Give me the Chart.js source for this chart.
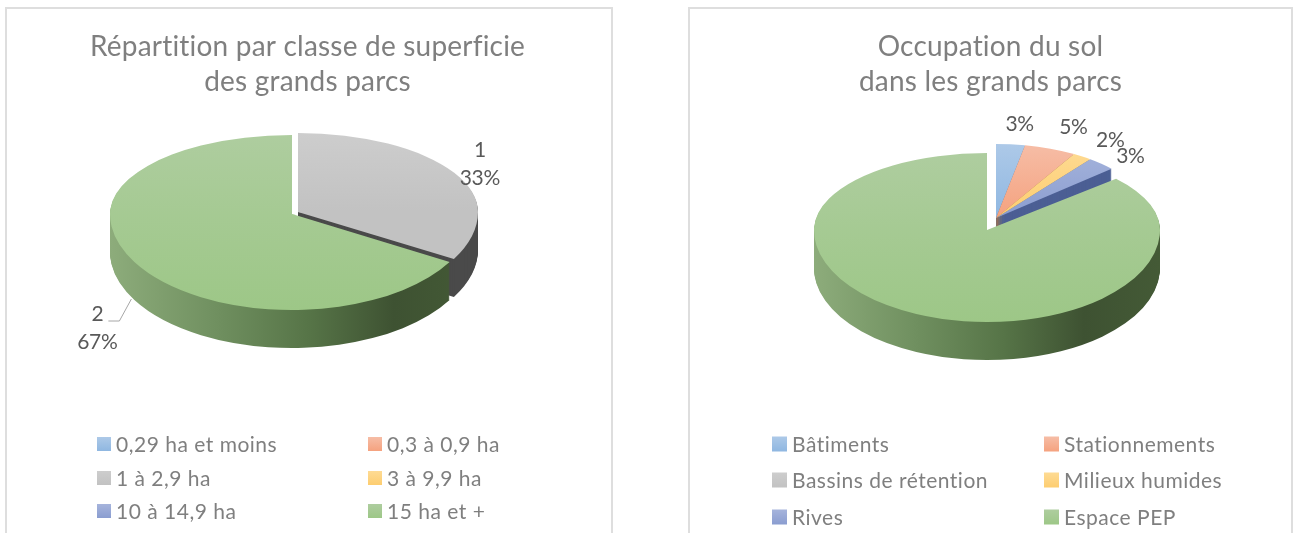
<!DOCTYPE html>
<html lang="fr"><head><meta charset="utf-8">
<style>
html,body{margin:0;padding:0;background:#fff;width:1293px;height:533px;overflow:hidden}
.panel{position:absolute;top:7px;height:560px;box-sizing:border-box;border:2px solid #dedede;background:#fff;overflow:hidden}
canvas{display:block;filter:blur(0.4px)}
</style>
<script src="https://cdn.jsdelivr.net/npm/chart.js@4/dist/chart.umd.min.js"></script>
</head><body>
<div class="panel" style="left:5px;width:608px"><canvas id="c1" width="601" height="556"></canvas></div>
<div class="panel" style="left:688px;width:605px"><canvas id="c2" width="601" height="556"></canvas></div>
<script>
// ---- data ----
const sizeCategories = ['0,29 ha et moins','0,3 à 0,9 ha','1 à 2,9 ha','3 à 9,9 ha','10 à 14,9 ha','15 ha et +'];
const sizeValues = [0,0,1,0,0,2];
const sizeLabels = [null,null,['1','33%'],null,null,['2','67%']];
const sizeTitle = ['Répartition par classe de superficie','des grands parcs'];

const landCategories = ['Bâtiments','Stationnements','Bassins de rétention','Milieux humides','Rives','Espace PEP'];
const landValues = [3,5.4,0,2,3,86.6];
const landLabels = [['3%'],['5%'],null,['2%'],['3%'],null];
const landTitle = ['Occupation du sol','dans les grands parcs'];

// ---- styles ----
const faceTop = ['#adc9e8','#f6bda6','#cdcdcd','#fedb94','#a6b4dc','#aecd9f'];
const faceBottom = ['#8fb7e1','#f5a27f','#c2c2c2','#fdcd70','#8a9dd0','#9dc787'];
const sideSolid = ['#5c7ba0','#a8694a','#4a4a4a','#b08f40','#4c5f94',null];
const sideStops = [[0,'#8dac7b'],[0.3,'#6f8f5f'],[0.55,'#567447'],[0.78,'#3e5232'],[1,'#445a36']];
const GREY = '#7f7f7f', LABEL = '#595959', FONT = 'Lato';

function panelPlugin(cfg){
  return {
    id:'pie3d',
    beforeDraw(chart){ chart.ctx.letterSpacing = cfg.titleSpacing; },
    beforeDatasetsDraw(chart){
      const ctx = chart.ctx;
      ctx.letterSpacing = '0px';
      const arcs = chart.getDatasetMeta(0).data;
      const paint = (arc,g,d,fill)=>{
        const R = arc.outerRadius;
        [[g.ryb,-1e4,g.y+d+0.5],[g.ryf,g.y+d,1e4]].forEach(([ry,y0,y1])=>{
          ctx.save();
          ctx.beginPath(); ctx.rect(-1e4,y0,2e4,y1-y0); ctx.clip();
          ctx.translate(g.x,g.y+d); ctx.scale(g.rx/R,ry/R); ctx.translate(-arc.x,-arc.y);
          const o = arc.options;
          arc.options = Object.assign({},o,{backgroundColor:fill,borderWidth:0});
          arc.draw(ctx);
          arc.options = o;
          ctx.restore();
        });
      };
      const sideFill = (arc,i)=>{
        if(sideSolid[i]) return sideSolid[i];
        const R = arc.outerRadius;
        const gr = ctx.createLinearGradient(arc.x-R,0,arc.x+R,0);
        sideStops.forEach(s=>gr.addColorStop(s[0],s[1]));
        return gr;
      };
      const faceFill = (arc,i)=>{
        const R = arc.outerRadius;
        const end = cfg.slice[i].z===0 ? arc.y : arc.y+R;
        const gr = ctx.createLinearGradient(0,arc.y-R,0,end);
        gr.addColorStop(0,faceTop[i]); gr.addColorStop(1,faceBottom[i]);
        return gr;
      };
      // the back group first, so the front slice covers it
      [0,1].forEach(z=>{
        const idx = arcs.map((a,i)=>i).filter(i=>cfg.slice[i].z===z);
        idx.forEach(i=>{
          const fill = sideFill(arcs[i],i);
          for(let d=cfg.depth;d>=1;d--) paint(arcs[i],cfg.slice[i],d,fill);
        });
        idx.forEach(i=>paint(arcs[i],cfg.slice[i],0,faceFill(arcs[i],i)));
      });
      // data labels
      ctx.fillStyle = LABEL; ctx.textAlign='center'; ctx.textBaseline='middle';
      ctx.font = cfg.labelFont+'px '+FONT;
      ctx.letterSpacing = cfg.labelSpacing;
      const labels = chart.data.datasets[0].dataLabels;
      arcs.forEach((arc,i)=>{
        if(!labels[i]) return;
        const g = cfg.slice[i], mid = (arc.startAngle+arc.endAngle)/2, n = cfg.nudge[i];
        const sin = Math.sin(mid), px = g.x+Math.cos(mid)*g.rx, py = g.y+sin*(sin<0?g.ryb:g.ryf);
        labels[i].forEach((t,k)=>ctx.fillText(t,px+n[0],py+n[1]+k*28));
        if(cfg.leader&&cfg.leader[i]){
          ctx.strokeStyle='#a6a6a6';ctx.lineWidth=1;ctx.beginPath();
          cfg.leader[i].forEach((p,k)=>{const x=px+n[0]+p[0],y=py+n[1]+p[1];k?ctx.lineTo(x,y):ctx.moveTo(x,y);});
          ctx.stroke();
        }
      });
      // legend
      ctx.textAlign='left';ctx.fillStyle=GREY;
      ctx.letterSpacing=cfg.legendSpacing;
      ctx.font=cfg.legendFont+'px '+FONT;
      chart.data.labels.forEach((t,i)=>{
        const x=cfg.legendX[i%2], y=cfg.legendY[Math.floor(i/2)], s=cfg.swatch;
        const gr=ctx.createLinearGradient(0,y-s/2,0,y+s/2);
        gr.addColorStop(0,faceTop[i]);gr.addColorStop(1,faceBottom[i]);
        ctx.fillStyle=gr;ctx.fillRect(x,y-s/2,s,s);
        ctx.fillStyle=GREY;ctx.fillText(t,x+s+cfg.swatchGap,y+1);
      });
      ctx.letterSpacing='0px';
      return false;
    }
  };
}

function makeChart(id,labels,values,dataLabels,title,cfg){
  return new Chart(document.getElementById(id),{
    type:'pie',
    data:{labels,datasets:[{data:values,dataLabels,backgroundColor:faceBottom,borderWidth:0}]},
    options:{
      responsive:false,animation:false,
      layout:{padding:0},
      plugins:{
        legend:{display:false},tooltip:{enabled:false},
        title:{display:true,text:title,color:GREY,align:'center',padding:{top:cfg.titleTop,bottom:10},
          font:{family:FONT,size:cfg.titleSize,weight:'normal',lineHeight:cfg.titleLine}}
      }
    },
    plugins:[panelPlugin(cfg)]
  });
}

// geometry in canvas pixels (canvas origin = panel origin + border)
const o1={x:7,y:9}, o2={x:690,y:9};
const g1front={x:292-o1.x,y:214-o1.y,rx:182,ryb:79,ryf:96,z:1};
const g1back ={x:298-o1.x,y:212-o1.y,rx:180,ryb:79,ryf:94,z:0};
const g2front={x:987-o2.x,y:230-o2.y,rx:173,ryb:77,ryf:92,z:1};
const g2back ={x:996-o2.x,y:218-o2.y,rx:155,ryb:74,ryf:74,z:0};

const common={depth:38,titleTop:20,titleSize:28,titleLine:1.27,titleSpacing:'0.2px',
  labelFont:21,labelSpacing:'-0.3px',legendFont:21,legendSpacing:'0.5px',swatchGap:5};

makeChart('c1',sizeCategories,sizeValues,sizeLabels,sizeTitle,Object.assign({},common,{
  slice:[g1back,g1back,g1back,g1back,g1back,g1front],
  nudge:[[0,0],[0,0],[26,-22],[0,0],[0,0],[-37,52]],
  leader:{5:[[11,7],[22,7],[34,-15]]},
  legendX:[97-o1.x,368-o1.x],legendY:[444-o1.y,478-o1.y,511-o1.y],swatch:14
}));
makeChart('c2',landCategories,landValues,landLabels,landTitle,Object.assign({},common,{
  slice:[g2back,g2back,g2back,g2back,g2back,g2front],
  nudge:[[9,-20],[23,-21],[0,0],[28,-16],[29,-8],[0,0]],
  legendX:[772-o2.x,1044-o2.x],legendY:[444-o2.y,480-o2.y,517-o2.y],swatch:15
}));
</script>
</body></html>
